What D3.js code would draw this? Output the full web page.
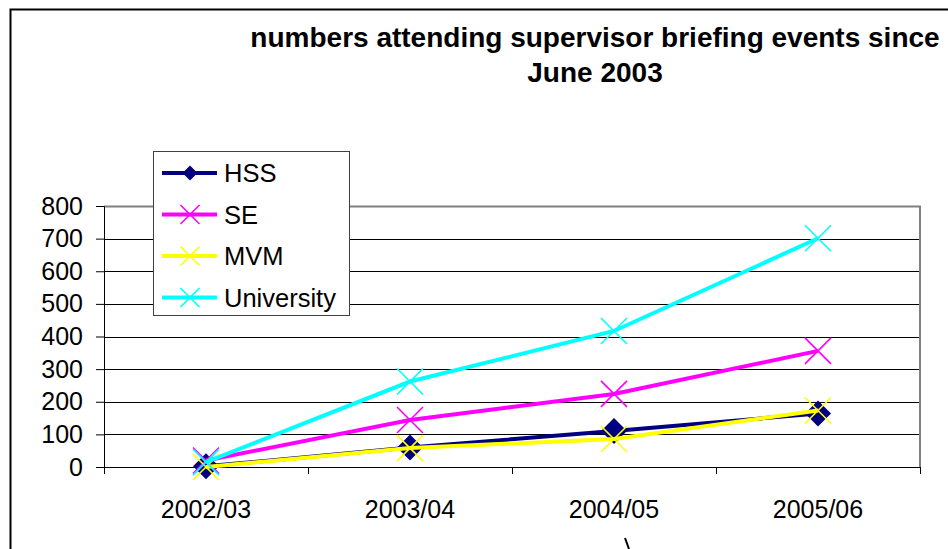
<!DOCTYPE html>
<html>
<head>
<meta charset="utf-8">
<script src="https://cdnjs.cloudflare.com/ajax/libs/d3/7.8.5/d3.min.js"></script>
<style>
  html, body { margin: 0; padding: 0; background: #fff; }
  svg { display: block; }
  text { font-family: Arial, "Liberation Sans", sans-serif; }
</style>
</head>
<body>
<div id="app"></div>
<script>
// chart data
const years = ['2002/03', '2003/04', '2004/05', '2005/06'];
const hss = [2, 60, 110, 164];
const se = [20, 144, 224, 356];
const mvm = [0, 58, 86, 173];
const university = [15, 262, 417, 701];
const yTicks = [0, 100, 200, 300, 400, 500, 600, 700, 800];
const seriesNames = ['HSS', 'SE', 'MVM', 'University'];
const titleLines = ['numbers attending supervisor briefing events since', 'June 2003'];

const width = 948;
const height = 549;
const margin = {
  top: 206,
  right: 28,
  bottom: 82,
  left: 104,
};
const fontFamily = 'Arial, "Liberation Sans", sans-serif';
const colors = ['#000080', '#ff00ff', '#ffff00', '#00ffff'];
const markers = ['diamond', 'cross', 'cross', 'cross'];
const seriesValues = [hss, se, mvm, university];

const svg = d3.select('#app')
  .append('svg')
  .attr('width', width)
  .attr('height', height);

// outer chart border (runs off the picture right and bottom)
svg.append('rect')
  .attr('x', 10.5)
  .attr('y', 9.5)
  .attr('width', 1000)
  .attr('height', 1000)
  .attr('fill', 'none')
  .attr('stroke', '#000')
  .attr('stroke-width', 2);

// title
svg.append('g')
  .selectAll('text')
  .data(titleLines)
  .enter()
  .append('text')
  .attr('x', 595)
  .attr('y', (d, i) => 47 + i * 35)
  .attr('text-anchor', 'middle')
  .attr('font-size', 28)
  .attr('font-weight', 'bold')
  .text(d => d);

const plotW = width - margin.left - margin.right;
const plotH = height - margin.top - margin.bottom;

const x = d3.scaleBand()
  .domain(years)
  .range([0, plotW]);

const y = d3.scaleLinear()
  .domain([0, 800])
  .range([plotH, 0]);

const g = svg.append('g')
  .attr('transform', `translate(${margin.left},${margin.top})`);

// gridlines
g.append('g')
  .selectAll('line')
  .data(yTicks.filter(t => t > 0 && t < 800))
  .enter()
  .append('line')
  .attr('x1', 0)
  .attr('x2', plotW)
  .attr('y1', d => Math.round(y(d)) + 0.5)
  .attr('y2', d => Math.round(y(d)) + 0.5)
  .attr('stroke', '#000')
  .attr('stroke-width', 1);

// plot area border top / right (grey)
g.append('path')
  .attr('d', `M0,${Math.round(y(800)) + 0.5}H${plotW}V${plotH}`)
  .attr('fill', 'none')
  .attr('stroke', '#808080')
  .attr('stroke-width', 2);

// y axis
const yAxis = g.append('g')
  .call(d3.axisLeft(y).tickValues(yTicks).tickSize(8).tickPadding(13));
yAxis.select('.domain').attr('stroke', '#000');
yAxis.selectAll('text')
  .attr('font-size', 25)
  .attr('fill', '#000')
  .attr('font-family', fontFamily);

// x axis: labels centered on categories, ticks at band edges
const xAxis = g.append('g')
  .attr('transform', `translate(0,${plotH})`)
  .call(d3.axisBottom(x).tickSize(0).tickPadding(33));
xAxis.select('.domain').attr('stroke', '#000');
xAxis.selectAll('text')
  .attr('font-size', 25)
  .attr('fill', '#000')
  .attr('font-family', fontFamily);

const edges = years.map(d => x(d)).concat([x.range()[1]]);
xAxis.append('g')
  .selectAll('line')
  .data(edges)
  .enter()
  .append('line')
  .attr('x1', d => Math.round(d) + 0.5)
  .attr('x2', d => Math.round(d) + 0.5)
  .attr('y1', 0)
  .attr('y2', 7)
  .attr('stroke', '#000');

const cx = d => x(d) + x.bandwidth() / 2;

function drawMarker(sel, type, color, size) {
  const h = size / 2;
  if (type === 'diamond') {
    sel.append('path')
      .attr('d', `M0,${-h}L${h},0L0,${h}L${-h},0Z`)
      .attr('fill', color);
  } else {
    sel.append('path')
      .attr('d', `M${-h},${-h}L${h},${h}M${-h},${h}L${h},${-h}`)
      .attr('stroke', color)
      .attr('stroke-width', 1.6)
      .attr('fill', 'none');
  }
}

// series lines and markers, in series order
const line = d3.line()
  .x(d => cx(d.year))
  .y(d => y(d.value));

seriesValues.forEach((vals, i) => {
  const pts = years.map((yr, j) => ({ year: yr, value: vals[j] }));
  const sg = g.append('g').attr('class', 'series');
  sg.append('path')
    .datum(pts)
    .attr('d', line)
    .attr('fill', 'none')
    .attr('stroke', colors[i])
    .attr('stroke-width', 4);
  sg.selectAll('.mark')
    .data(pts)
    .enter()
    .append('g')
    .attr('class', 'mark')
    .attr('transform', d => `translate(${cx(d.year)},${y(d.value)})`)
    .each(function (d) {
      drawMarker(d3.select(this), markers[i], colors[i], 26);
    });
});

// legend
const legend = svg.append('g')
  .attr('transform', 'translate(153,151)');
legend.append('rect')
  .attr('x', 0.5)
  .attr('y', 0.5)
  .attr('width', 196)
  .attr('height', 164)
  .attr('fill', '#fff')
  .attr('stroke', '#404040')
  .attr('stroke-width', 1);

const items = legend.selectAll('.item')
  .data(seriesNames)
  .enter()
  .append('g')
  .attr('class', 'item')
  .attr('transform', (d, i) => `translate(0,${22 + i * 41.5})`);
items.append('line')
  .attr('x1', 9)
  .attr('x2', 64)
  .attr('stroke', (d, i) => colors[i])
  .attr('stroke-width', 4);
items.append('g')
  .attr('transform', 'translate(37,0)')
  .each(function (d, i) {
    drawMarker(d3.select(this), markers[i], colors[i], markers[i] === 'diamond' ? 15 : 19);
  });
items.append('text')
  .attr('x', 71)
  .attr('dy', '0.36em')
  .attr('font-size', 25.5)
  .text(d => d);

// stray mark at the bottom edge
svg.append('line')
  .attr('x1', 625)
  .attr('y1', 538)
  .attr('x2', 629)
  .attr('y2', 549)
  .attr('stroke', '#000')
  .attr('stroke-width', 2);
</script>
</body>
</html>
